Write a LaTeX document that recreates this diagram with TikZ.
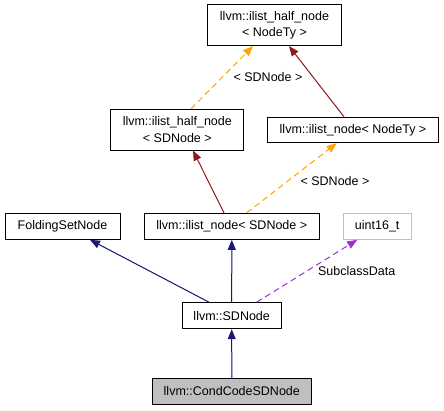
\documentclass[tikz,border=0pt]{standalone}
\usepackage{fontspec}
\setmainfont{Liberation Sans}
\usetikzlibrary{arrows.meta}
\definecolor{navyc}{HTML}{191970}
\definecolor{redc}{HTML}{8B1A1A}
\definecolor{orangec}{HTML}{FFA500}
\definecolor{orchidc}{HTML}{9A32CD}
\definecolor{grayc}{HTML}{BFBFBF}
\begin{document}
\begin{tikzpicture}[x=1pt,y=-1pt,
  box/.style={draw=black,line width=1pt,inner sep=0pt,align=center,
    font=\fontsize{12.5}{16.5}\selectfont},
  lbl/.style={inner sep=0pt,font=\fontsize{12.5}{15}\selectfont},
  tip/.style={-{Triangle[length=10pt,width=8pt]}},
  inh/.style={tip,draw=navyc,line width=1pt,fill=navyc},
  tmpl/.style={tip,draw=orangec,line width=1pt,dash pattern=on 6pt off 4pt},
  priv/.style={tip,draw=redc,line width=1pt},
  use/.style={tip,draw=orchidc,line width=1pt,dash pattern=on 6pt off 4pt}]
\useasboundingbox (0,0) rectangle (444,411);
\node[box,minimum width=134pt,minimum height=40.6pt] (hnT) at (274.5,25.3) {llvm::ilist\_half\_node\\< NodeTy >};
\node[box,minimum width=133.3pt,minimum height=40.7pt] (hnS) at (177.3,129.7) {llvm::ilist\_half\_node\\< SDNode >};
\node[box,minimum width=170.6pt,minimum height=25.4pt] (nT) at (353,130) {llvm::ilist\_node< NodeTy >};
\node[box,minimum width=115pt,minimum height=26pt] (fsn) at (62.5,226.3) {FoldingSetNode};
\node[box,minimum width=175pt,minimum height=26pt] (nS) at (231.8,226.3) {llvm::ilist\_node< SDNode >};
\node[box,draw=grayc,minimum width=67.7pt,minimum height=26pt] (u16) at (377.2,226.3) {uint16\_t};
\node[box,minimum width=98.7pt,minimum height=26pt] (sd) at (231.7,315.7) {llvm::SDNode};
\node[box,fill=grayc,minimum width=159pt,minimum height=25.6pt] (cc) at (231.8,391.5) {llvm::CondCodeSDNode};

\draw[inh] (cc.north) -- (sd.south);
\draw[inh] (sd.north) -- (nS.south);
\draw[inh] ([xshift=-22.7pt]sd.north) -- ([xshift=27.5pt]fsn.south);
\draw[use] ([xshift=25pt]sd.north) -- ([xshift=-20pt]u16.south);
\node[lbl] (lsub) at (356.7,270.7) {SubclassData};
\draw[priv] ([xshift=-7.8pt]nS.north) -- ([xshift=15.7pt]hnS.south);
\draw[tmpl] ([xshift=14.9pt]nS.north) -- ([xshift=-16.3pt]nT.south);
\node[lbl] (l1) at (335,180.7) {< SDNode >};
\draw[tmpl] ([xshift=13.7pt]hnS.north) -- ([xshift=-21.5pt]hnT.south);
\node[lbl] (l2) at (268,77) {< SDNode >};
\draw[priv] ([xshift=-9pt]nT.north) -- ([xshift=14.5pt]hnT.south);
\end{tikzpicture}
\end{document}
